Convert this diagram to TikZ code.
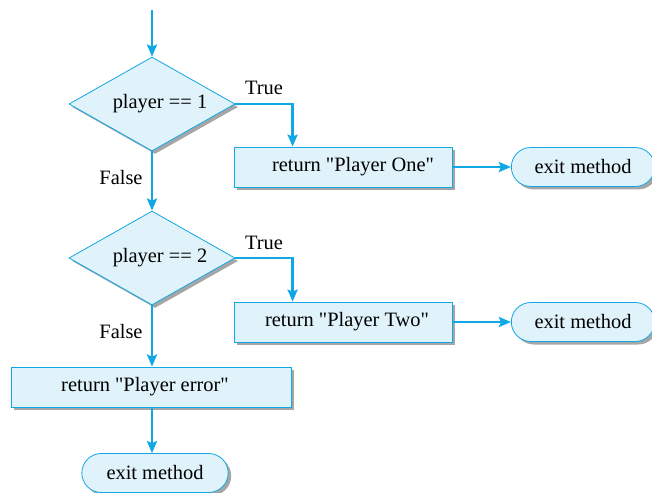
\documentclass[tikz,border=0pt]{standalone}
\usepackage{fontspec}
\setmainfont{Liberation Serif}[Ligatures=TeXOff]
\usetikzlibrary{arrows.meta,shapes.geometric,shapes.misc,shadows}
\definecolor{flowblue}{HTML}{10A8E4}
\definecolor{flowfill}{HTML}{E0F2FA}

\begin{document}
\begin{tikzpicture}[x=1bp,y=-1bp,
  font=\fontsize{20.5}{24}\selectfont,
  shade/.style={drop shadow={shadow xshift=3bp,shadow yshift=-3bp,fill=black!35,opacity=1}},
  decision/.style={diamond,aspect=1.77,draw=flowblue,fill=flowfill,line width=0.8bp,minimum width=166bp,minimum height=94bp,inner sep=0pt,shade},
  process/.style={rectangle,draw=flowblue,fill=flowfill,line width=0.8bp,minimum height=40bp,shade},
  terminal/.style={rounded rectangle,draw=flowblue,fill=flowfill,line width=0.8bp,minimum height=39bp,shade},
  flow/.style={draw=flowblue,line width=2.6bp,-{Stealth[length=12bp,width=10bp,inset=2bp]}}]
\useasboundingbox (0,0) rectangle (652,493);
\clip (0,0) rectangle (652,493);

\coordinate (start) at (152,10);
\node[decision] (d1) at (152,104) {\hspace*{16bp}player == 1};
\node[process,minimum width=218bp] (r1) at (343,167) {\hspace*{20bp}return "Player One"};
\node[terminal,minimum width=150bp] (e1) at (583,167) {exit method};

\node[decision] (d2) at (152,258) {\hspace*{16bp}player == 2};
\node[process,minimum width=218bp] (r2) at (343,322) {\hspace*{8bp}return "Player Two"};
\node[terminal,minimum width=150bp] (e2) at (583,322) {exit method};

\node[process,minimum width=280bp] (r3) at (151,387) {return "Player error"\hspace*{12bp}};
\node[terminal,minimum width=153bp] (e3) at (155,473) {exit method};

% labels
\node (t1) at (264,88) {True};
\node (f1) at (121,178) {False};
\node (t2) at (264,243) {True};
\node (f2) at (121,332) {False};

% connectors
\draw[flow] (start) -- (d1.north);
\draw[flow] (d1.east) -| ([xshift=59bp]r1.north west);
\draw[flow] (r1) -- (e1);
\draw[flow] (d1.south) -- (d2.north);
\draw[flow] (d2.east) -| ([xshift=59bp]r2.north west);
\draw[flow] (r2) -- (e2);
\draw[flow] (d2.south) -- (d2.south |- r3.north);
\draw[flow] (d2.south |- r3.south) -- (d2.south |- e3.north);
\end{tikzpicture}
\end{document}
